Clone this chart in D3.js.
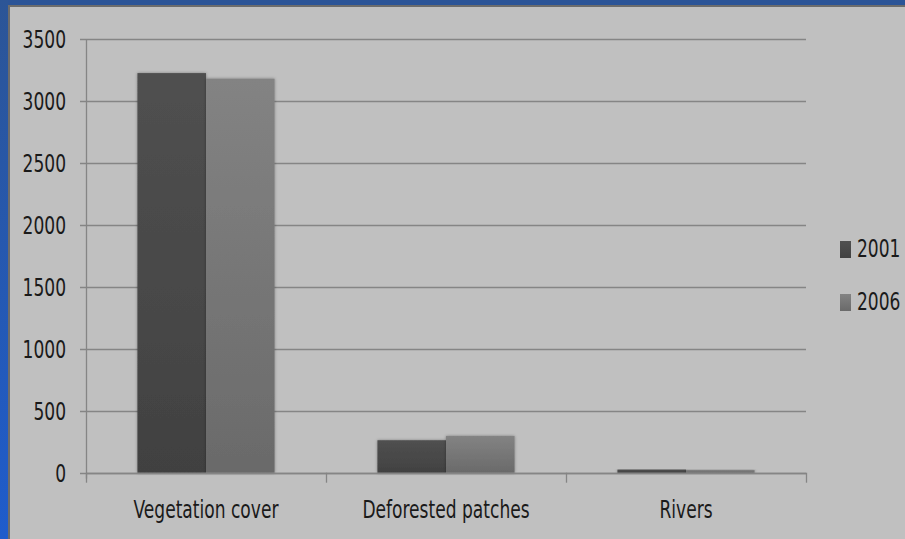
<!DOCTYPE html>
<html>
<head>
<meta charset="utf-8">
<script src="https://cdn.jsdelivr.net/npm/d3@7"></script>
<style>
  html, body { margin: 0; padding: 0; background: #c0c0c0; }
  svg { display: block; }
  text { font-family: "DejaVu Sans Condensed", "DejaVu Sans", sans-serif; fill: #1a1a1a; }
</style>
</head>
<body>
<svg id="chart" width="905" height="539"></svg>
<script>
// Land-cover areas by class, two survey years
const categories = ["Vegetation cover", "Deforested patches", "Rivers"];
const seriesNames = ["2001", "2006"];
const values2001 = [3225, 262, 25];
const values2006 = [3180, 296, 22];
const yTicks = [0, 500, 1000, 1500, 2000, 2500, 3000, 3500];

const seriesValues = [values2001, values2006];
const W = 905, H = 539;
const FONT = 25, SQUEEZE = 0.76;   // tall, narrow lettering
const svg = d3.select("#chart");

// places a text at (x, y) and squeezes it horizontally
const placeText = (sel, fx, fy) =>
  sel.attr("transform", (d, i) => `translate(${fx(d, i)},${fy(d, i)}) scale(${SQUEEZE},1)`)
     .attr("font-size", FONT);

// slide frame: blue strip on the top and left, thin dark rule inside it
const defs = svg.append("defs");
const frameGrad = defs.append("linearGradient").attr("id", "frame").attr("x1", 0).attr("y1", 0).attr("x2", 0).attr("y2", 1);
frameGrad.append("stop").attr("offset", "0%").attr("stop-color", "#2c5596");
frameGrad.append("stop").attr("offset", "100%").attr("stop-color", "#1f5ccc");

svg.append("rect").attr("x", 0).attr("y", 0).attr("width", W).attr("height", H).attr("fill", "#c0c0c0");
svg.append("rect").attr("x", 0).attr("y", 0).attr("width", W).attr("height", 5).attr("fill", "#2b5497");
svg.append("rect").attr("x", 0).attr("y", 0).attr("width", 8).attr("height", H).attr("fill", "url(#frame)");
svg.append("rect").attr("x", 8).attr("y", 5).attr("width", W - 8).attr("height", 2).attr("fill", "#6c6c6c");
svg.append("rect").attr("x", 8).attr("y", 5).attr("width", 2).attr("height", H - 5).attr("fill", "#6c6c6c");

// bar fills: slight top-to-bottom darkening
const fills = [["#505050", "#414141"], ["#838383", "#6a6a6a"]];
fills.forEach((f, i) => {
  const g = defs.append("linearGradient").attr("id", "bar" + i).attr("x1", 0).attr("y1", 0).attr("x2", 0).attr("y2", 1);
  g.append("stop").attr("offset", "0%").attr("stop-color", f[0]);
  g.append("stop").attr("offset", "100%").attr("stop-color", f[1]);
});
const shadow = defs.append("filter").attr("id", "shadow").attr("x", "-10%").attr("y", "-10%").attr("width", "120%").attr("height", "120%");
shadow.append("feDropShadow").attr("dx", 0).attr("dy", 0).attr("stdDeviation", 1.5).attr("flood-color", "#000").attr("flood-opacity", 0.35);

const plot = { left: 86, right: 806, top: 39, bottom: 472.7 };

const x = d3.scaleBand().domain(categories).range([plot.left, plot.right]).paddingInner(0).paddingOuter(0);
// gap width of 150%: bars take 2/(2+1.5) of each band
const groupFrac = 2 / 3.5;
const xs = d3.scaleBand().domain(seriesNames)
  .range([x.bandwidth() * (1 - groupFrac) / 2, x.bandwidth() * (1 + groupFrac) / 2]);
const y = d3.scaleLinear().domain([0, 3500]).range([plot.bottom, plot.top]);

// gridlines with left tick stubs
svg.append("g")
  .selectAll("line").data(yTicks).join("line")
  .attr("x1", plot.left - 6).attr("x2", plot.right)
  .attr("y1", d => Math.round(y(d)) + 0.5).attr("y2", d => Math.round(y(d)) + 0.5)
  .attr("stroke", "#858585").attr("stroke-width", 1.3);

// y axis labels
svg.append("g")
  .selectAll("text").data(yTicks).join("text")
  .call(placeText, () => 66, d => y(d))
  .attr("text-anchor", "end").attr("dy", "0.36em")
  .text(d => d);

// vertical axis line
svg.append("line")
  .attr("x1", plot.left + 0.5).attr("x2", plot.left + 0.5)
  .attr("y1", plot.top).attr("y2", plot.bottom + 6)
  .attr("stroke", "#858585").attr("stroke-width", 1.3);

// bars
const groups = svg.append("g").selectAll("g").data(categories).join("g")
  .attr("transform", d => `translate(${x(d)},0)`);
groups.selectAll("rect")
  .data((c, ci) => seriesNames.map((s, si) => ({ s, si, v: seriesValues[si][ci] })))
  .join("rect")
  .attr("x", d => xs(d.s)).attr("width", xs.bandwidth())
  .attr("y", d => y(d.v)).attr("height", d => y(0) - y(d.v))
  .attr("fill", d => `url(#bar${d.si})`)
  .attr("filter", "url(#shadow)");

// category axis ticks at band boundaries
const boundaries = categories.map(c => x(c)).concat([plot.right]);
svg.append("g").selectAll("line").data(boundaries).join("line")
  .attr("x1", d => Math.round(d) + 0.5).attr("x2", d => Math.round(d) + 0.5)
  .attr("y1", plot.bottom).attr("y2", plot.bottom + 10)
  .attr("stroke", "#858585").attr("stroke-width", 1.3);
svg.append("line")
  .attr("x1", plot.left).attr("x2", plot.right)
  .attr("y1", Math.round(plot.bottom) + 0.5).attr("y2", Math.round(plot.bottom) + 0.5)
  .attr("stroke", "#858585").attr("stroke-width", 1.3);

// category labels
svg.append("g").selectAll("text").data(categories).join("text")
  .call(placeText, d => x(d) + x.bandwidth() / 2, () => 518)
  .attr("text-anchor", "middle")
  .text(d => d);

// legend
const legend = svg.append("g").selectAll("g").data(seriesNames).join("g")
  .attr("transform", (d, i) => `translate(840,${241 + i * 53})`);
legend.append("rect").attr("width", 11).attr("height", 17)
  .attr("fill", (d, i) => `url(#bar${i})`);
legend.append("text")
  .call(placeText, () => 17, () => 16)
  .text(d => d);
</script>
</body>
</html>
